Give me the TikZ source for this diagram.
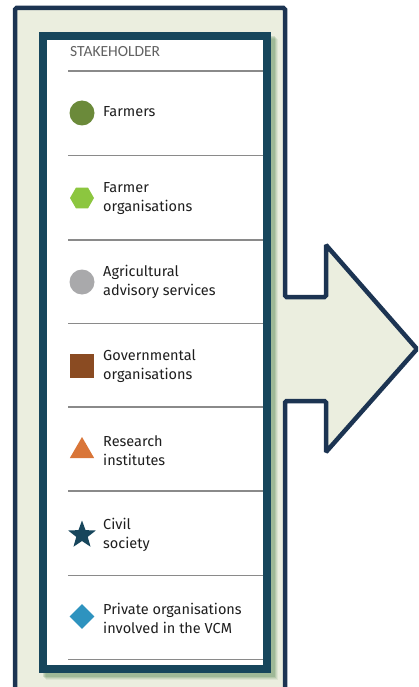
\documentclass[tikz,border=0pt]{standalone}
\usepackage{fontspec}
\setmainfont{Fira Sans}
\newfontfamily\hdrfont{Carlito}
\usetikzlibrary{shapes.geometric}
\definecolor{framefill}{HTML}{EBEEDF}
\definecolor{frameline}{HTML}{1C3452}
\definecolor{boxline}{HTML}{17465C}
\definecolor{sepgray}{HTML}{8A8A8A}
\definecolor{txt}{HTML}{1E1E1E}
\definecolor{cFarm}{HTML}{6B8A3A}
\definecolor{cFarmOrg}{HTML}{8CC63F}
\definecolor{cAdv}{HTML}{A9A9AB}
\definecolor{cGov}{HTML}{8A4B22}
\definecolor{cRes}{HTML}{D97538}
\definecolor{cCiv}{HTML}{17465C}
\definecolor{cPriv}{HTML}{2E93BF}
\tikzset{
  label/.style={anchor=west, align=left, text=txt, font=\fontsize{14.5}{19}\selectfont, inner sep=0pt},
  sepline/.style={draw=sepgray, line width=1.2pt},
}
\begin{document}
\begin{tikzpicture}[x=1pt,y=-1pt]
\useasboundingbox (0,0) rectangle (418,687);
\clip (0,0) rectangle (418,687);
% outer frame with arrow
\draw[fill=framefill, draw=frameline, line width=4.5pt, rounded corners=1.5pt]
  (15,700) -- (15,8) -- (285,8) -- (285,297) -- (326,297) -- (326,245)
  -- (417,349) -- (326,452) -- (326,401) -- (285,401) -- (285,700);
% shadow
\foreach \o/\a in {7/0.06,6/0.08,5/0.1,4/0.12}{
  \fill[black!70!green, opacity=\a] (39+\o,32+\o) rectangle (271+\o,673+\o);
}
% inner box
\draw[fill=white, draw=boxline, line width=8pt] (43,36) rectangle (267,669);
% header
\node[anchor=west, inner sep=0pt, text=black!62, font=\hdrfont\fontsize{15.5}{18}\selectfont] (hdr) at (70,52) {STAKEHOLDER};
% separators
\foreach \y [count=\i] in {71,155.5,240,323.5,407,491,575.5,659.5}{
  \coordinate (sl\i) at (68,\y);
  \coordinate (sr\i) at (263,\y);
  \draw[sepline] (sl\i) -- (sr\i);
}
% icons
\node[circle, fill=cFarm, minimum size=25pt, inner sep=0pt] (i1) at (82,113) {};
\node[regular polygon, regular polygon sides=6, fill=cFarmOrg, minimum size=24pt, inner sep=0pt] (i2) at (82,198) {};
\node[circle, fill=cAdv, minimum size=25pt, inner sep=0pt] (i3) at (82,282) {};
\node[rectangle, fill=cGov, minimum size=24pt, inner sep=0pt] (i4) at (82,366) {};
\node[isosceles triangle, isosceles triangle apex angle=60, shape border rotate=90, fill=cRes, minimum height=21pt, inner sep=0pt] (i5) at (82,451) {};
\node[star, star points=5, star point ratio=2.4, fill=cCiv, minimum size=29pt, inner sep=0pt] (i6) at (82,535) {};
\node[diamond, fill=cPriv, minimum size=25pt, inner sep=0pt] (i7) at (82,616.5) {};
% labels
\node[label] (t1) at (103,112) {Farmers};
\node[label] (t2) at (103,199) {Farmer\\organisations};
\node[label] (t3) at (103,282) {Agricultural\\advisory services};
\node[label] (t4) at (103,366) {Governmental\\organisations};
\node[label] (t5) at (103,451) {Research\\institutes};
\node[label] (t6) at (103,535) {Civil\\society};
\node[label] (t7) at (103,618) {Private organisations\\involved in the VCM};
\end{tikzpicture}
\end{document}
